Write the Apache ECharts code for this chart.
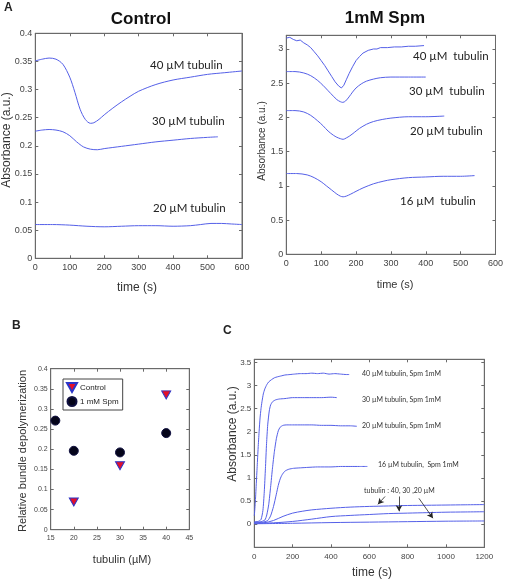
<!DOCTYPE html>
<html><head><meta charset="utf-8">
<script src="https://cdn.jsdelivr.net/npm/echarts@6/dist/echarts.min.js"></script>
<style>html,body{margin:0;padding:0;background:#fff}#c{width:506px;height:580px}</style>
</head><body><div id="c"></div>
<script>
// ---------- Panel A, Control ----------
const ctrlT40 = [0,20,40,60,80,100,115,130,145,160,170,185,200,225,250,275,300,350,400,450,500,550,600];
const ctrlA40 = [0.351,0.354,0.356,0.354,0.345,0.322,0.295,0.265,0.247,0.240,0.241,0.247,0.255,0.267,0.278,0.288,0.297,0.309,0.317,0.322,0.327,0.330,0.333];
const ctrlT30 = [0,20,40,60,80,100,120,140,160,180,200,250,300,350,400,450,500,530];
const ctrlA30 = [0.226,0.228,0.229,0.228,0.225,0.218,0.207,0.198,0.194,0.193,0.195,0.199,0.203,0.207,0.210,0.213,0.215,0.216];
const ctrlT20 = [0,50,100,150,200,250,300,350,400,450,480,510,540,570,600];
const ctrlA20 = [0.060,0.060,0.059,0.057,0.056,0.057,0.058,0.058,0.057,0.058,0.060,0.062,0.062,0.061,0.060];
// ---------- Panel A, 1mM Spm ----------
const spmT40 = [0,10,20,30,40,50,60,70,80,90,100,110,120,130,140,150,158,165,172,180,190,200,210,220,235,250,260,270,290,310,330,350,370,395];
const spmA40 = [3.16,3.17,3.14,3.12,3.13,3.09,3.06,3.02,2.96,2.90,2.83,2.76,2.68,2.60,2.52,2.46,2.43,2.47,2.55,2.64,2.74,2.83,2.89,2.94,2.98,3.00,3.00,3.02,3.02,3.03,3.03,3.04,3.04,3.05];
const spmT30 = [0,25,50,70,90,105,120,135,145,155,162,170,180,190,200,215,230,250,270,300,350,400];
const spmA30 = [2.67,2.67,2.65,2.61,2.54,2.47,2.39,2.31,2.26,2.23,2.22,2.24,2.30,2.37,2.43,2.49,2.53,2.56,2.58,2.59,2.59,2.59];
const spmT20 = [0,25,50,70,90,105,120,135,145,155,163,172,182,195,210,230,250,275,300,350,400,453];
const spmA20 = [2.10,2.10,2.08,2.03,1.95,1.88,1.80,1.74,1.71,1.69,1.68,1.70,1.73,1.78,1.84,1.90,1.94,1.97,1.99,2.01,2.01,2.02];
const spmT16 = [0,30,60,80,100,115,130,145,155,163,172,185,200,220,250,280,300,350,400,450,500,540];
const spmA16 = [1.18,1.18,1.16,1.12,1.06,1.00,0.94,0.88,0.85,0.84,0.85,0.88,0.92,0.97,1.03,1.07,1.09,1.12,1.13,1.14,1.14,1.15];
// ---------- Panel B ----------
const bTubulinCtrl = [20,30,40];
const bCtrl = [0.069,0.159,0.335];
const bTubulinSpm = [16,20,30,40];
const bSpm = [0.271,0.196,0.192,0.240];
// ---------- Panel C ----------
const cT40 = [0,5,10,15,20,25,30,35,40,47,55,65,75,90,105,120,140,160,186,210,240,270,300,330,360,390,420,450,480,495];
const cA40 = [0.18,0.45,0.85,1.25,1.65,2.0,2.3,2.5,2.65,2.82,2.93,3.02,3.08,3.13,3.17,3.19,3.21,3.23,3.24,3.25,3.26,3.26,3.27,3.26,3.27,3.25,3.26,3.25,3.24,3.24];
const cT30 = [0,20,35,45,52,58,64,70,78,85,95,110,130,160,200,250,300,350,400,430];
const cA30 = [0.05,0.06,0.10,0.30,0.70,1.20,1.75,2.15,2.45,2.58,2.65,2.69,2.71,2.72,2.74,2.74,2.74,2.74,2.75,2.74];
const cT20 = [0,30,55,65,75,85,95,105,115,125,135,150,170,200,250,300,350,400,450,500,535];
const cA20 = [0.04,0.05,0.09,0.20,0.42,0.80,1.22,1.58,1.85,2.02,2.10,2.14,2.15,2.15,2.15,2.15,2.14,2.14,2.13,2.13,2.12];
const cT16 = [0,40,70,85,100,115,125,135,145,160,180,205,240,280,330,400,450,500,550,590];
const cA16 = [0.03,0.04,0.08,0.18,0.38,0.65,0.84,0.98,1.07,1.15,1.19,1.21,1.22,1.23,1.24,1.24,1.25,1.25,1.25,1.25];
const cCtrlT40 = [0,50,100,150,200,250,300,400,500,600,700,800,900,1000,1100,1200];
const cCtrlA40 = [0.02,0.03,0.08,0.17,0.24,0.28,0.31,0.345,0.37,0.385,0.395,0.405,0.41,0.415,0.42,0.425];
const cCtrlT30 = [0,100,200,300,400,500,600,700,800,900,1000,1100,1200];
const cCtrlA30 = [0.02,0.03,0.06,0.11,0.165,0.19,0.21,0.23,0.24,0.25,0.26,0.265,0.27];
const cCtrlT20 = [0,200,400,600,800,1000,1200];
const cCtrlA20 = [0.01,0.02,0.035,0.045,0.055,0.065,0.07];
// arrows in panel C (data coordinates: [t, absorbance])
const cArrows = [[[682,0.60],[645,0.43]],[[755,0.60],[755,0.28]],[[859,0.56],[932,0.13]]];

const zip = (t, v) => t.map((x, i) => [x, v[i]]);
const BLUE = '#5560e8';
const AX = '#6a6a6a';
const TXT = '#444';

const grids = [
  {left:35.3, top:33.3, width:206.7, height:225},
  {left:286.3, top:35.3, width:210.4, height:219},
  {left:50.7, top:368.7, width:138.6, height:161},
  {left:254.3, top:359.3, width:230, height:188}
].map(g => Object.assign({show:true, borderColor:AX, borderWidth:1, backgroundColor:'#fff', containLabel:false}, g));

const xAxes = [], yAxes = [];
const plain = v => String(Math.round(v * 1000) / 1000);
function addAxes(gi, xr, yr, fs, opt) {
  opt = opt || {};
  const common = {type:'value', gridIndex:gi, splitLine:{show:false},
    axisLine:{show:true, onZero:false, lineStyle:{color:AX, width:1}},
    axisTick:{show:true, inside:true, length:3, lineStyle:{color:AX}}};
  xAxes.push(Object.assign({}, common, {position:'bottom', min:xr[0], max:xr[1], interval:xr[2],
    axisLabel:{fontSize:fs, color:TXT, fontFamily:'Liberation Sans', margin:5, formatter:plain}}));
  xAxes.push(Object.assign({}, common, {position:'top', min:xr[0], max:xr[1], interval:xr[2], axisLabel:{show:false}}));
  yAxes.push(Object.assign({}, common, {position:'left', min:yr[0], max:yr[1], interval:yr[2],
    axisLabel:{fontSize:fs, color:TXT, fontFamily:'Liberation Sans', margin:3, formatter:plain,
      showMinLabel: opt.hideMin ? false : true, showMaxLabel: opt.hideMax ? false : true}}));
  yAxes.push(Object.assign({}, common, {position:'right', min:yr[0], max:yr[1], interval:yr[2], axisLabel:{show:false}}));
}
addAxes(0, [0,600,100], [0,0.4,0.05], 9);
addAxes(1, [0,600,100], [0,3.2,0.5], 9, {hideMax:true});
addAxes(2, [15,45,5], [0,0.4,0.05], 7);
addAxes(3, [0,1200,200], [-0.5,3.57,0.5], 8, {hideMin:true, hideMax:true});

function line(gi, t, v, extra) {
  return Object.assign({type:'line', xAxisIndex:gi*2, yAxisIndex:gi*2, data:zip(t, v), showSymbol:false,
    symbol:'none', smooth:0.3, lineStyle:{color:BLUE, width:1}, silent:true, animation:false, z:3}, extra || {});
}

const series = [
  line(0, ctrlT40, ctrlA40), line(0, ctrlT30, ctrlA30), line(0, ctrlT20, ctrlA20),
  line(1, spmT40, spmA40, {smooth:false}), line(1, spmT30, spmA30), line(1, spmT20, spmA20), line(1, spmT16, spmA16),
  {type:'scatter', name:'Control', xAxisIndex:4, yAxisIndex:4, data:zip(bTubulinCtrl, bCtrl),
    symbol:'path://M0,0 L10,0 L5,9 Z', symbolSize:[9,8],
    itemStyle:{color:'#e3102b', borderColor:'#2b35c8', borderWidth:1, opacity:1}, animation:false},
  {type:'scatter', name:'1 mM Spm', xAxisIndex:4, yAxisIndex:4, data:zip(bTubulinSpm, bSpm),
    symbol:'circle', symbolSize:9, itemStyle:{color:'#05051a', borderColor:'#101040', borderWidth:1, opacity:1}, animation:false},
  line(3, cT40, cA40, {smooth:0.2}), line(3, cT30, cA30, {smooth:0.2}), line(3, cT20, cA20, {smooth:0.2}), line(3, cT16, cA16, {smooth:0.2}),
  line(3, cCtrlT40, cCtrlA40), line(3, cCtrlT30, cCtrlA30),
  line(3, cCtrlT20, cCtrlA20, {markLine:{silent:true, animation:false, symbol:['none','arrow'], symbolSize:[5,6],
    label:{show:false}, lineStyle:{color:'#222', width:0.8, type:'solid'},
    data:cArrows.map(a => [{coord:a[0]}, {coord:a[1]}])}})
];

function txt(x, y, s, o) {
  return {type:'text', x:x, y:y, silent:true,
    style:Object.assign({text:s, fill:'#222', font:'12px "Liberation Sans"', textAlign:'left', textVerticalAlign:'middle'}, o || {})};
}
function vtxt(x, y, s, font) {
  return {type:'text', x:x, y:y, rotation:Math.PI/2, silent:true,
    style:{text:s, fill:'#333', font:font, textAlign:'center', textVerticalAlign:'middle'}};
}
const lbl = '11.5px Lato';
const graphic = [
  txt(4, 8, 'A', {font:'bold 12px "Liberation Sans"'}),
  txt(12, 326, 'B', {font:'bold 12px "Liberation Sans"'}),
  txt(223, 331, 'C', {font:'bold 12px "Liberation Sans"'}),
  txt(141, 19, 'Control', {font:'bold 17px "Liberation Sans"', textAlign:'center', fill:'#111'}),
  txt(385, 18, '1mM Spm', {font:'bold 17px "Liberation Sans"', textAlign:'center', fill:'#111'}),
  vtxt(7, 140, 'Absorbance (a.u.)', '12px "Liberation Sans"'),
  txt(137, 288, 'time (s)', {textAlign:'center', fill:'#333'}),
  vtxt(262, 141, 'Absorbance (a.u.)', '10px "Liberation Sans"'),
  txt(395, 285, 'time (s)', {font:'11px "Liberation Sans"', textAlign:'center', fill:'#333'}),
  vtxt(23, 451, 'Relative bundle depolymerization', '11px "Liberation Sans"'),
  txt(122, 560, 'tubulin (\u00b5M)', {font:'11px "Liberation Sans"', textAlign:'center', fill:'#333'}),
  vtxt(233, 434, 'Absorbance (a.u.)', '12px "Liberation Sans"'),
  txt(372, 573, 'time (s)', {textAlign:'center', fill:'#333'}),
  txt(150, 65, '40 \u00b5M tubulin', {font:lbl}),
  txt(152, 121, '30 \u00b5M tubulin', {font:lbl}),
  txt(153, 208, '20 \u00b5M tubulin', {font:lbl}),
  txt(413, 56, '40 \u00b5M  tubulin', {font:lbl}),
  txt(409, 91, '30 \u00b5M  tubulin', {font:lbl}),
  txt(410, 131, '20 \u00b5M tubulin', {font:lbl}),
  txt(400, 201, '16 \u00b5M  tubulin', {font:lbl}),
  txt(362, 374, '40 \u00b5M tubulin, Spm 1mM', {font:'7px Lato', fill:'#333'}),
  txt(362, 400, '30 \u00b5M tubulin, Spm 1mM', {font:'7px Lato', fill:'#333'}),
  txt(362, 426, '20 \u00b5M tubulin, Spm 1mM', {font:'7px Lato', fill:'#333'}),
  txt(378, 465, '16 \u00b5M tubulin,  Spm 1mM', {font:'7px Lato', fill:'#333'}),
  txt(364, 491, 'tubulin : 40, 30 ,20 \u00b5M', {font:'7px Lato', fill:'#333'})
];

const chart = echarts.init(document.getElementById('c'), null, {renderer:'canvas'});
chart.setOption({
  animation:false,
  backgroundColor:'#fff',
  grid:grids, xAxis:xAxes, yAxis:yAxes, series:series, graphic:graphic,
  legend:{data:['Control','1 mM Spm'], orient:'vertical', left:63, top:379, borderColor:'#444', borderWidth:1,
    padding:[3,4,3,3], itemGap:3, itemWidth:10, itemHeight:9, selectedMode:false,
    textStyle:{fontSize:8, color:'#222', fontFamily:'Liberation Sans', padding:[0,0,0,-2]}, backgroundColor:'#fff'}
});
</script></body></html>
